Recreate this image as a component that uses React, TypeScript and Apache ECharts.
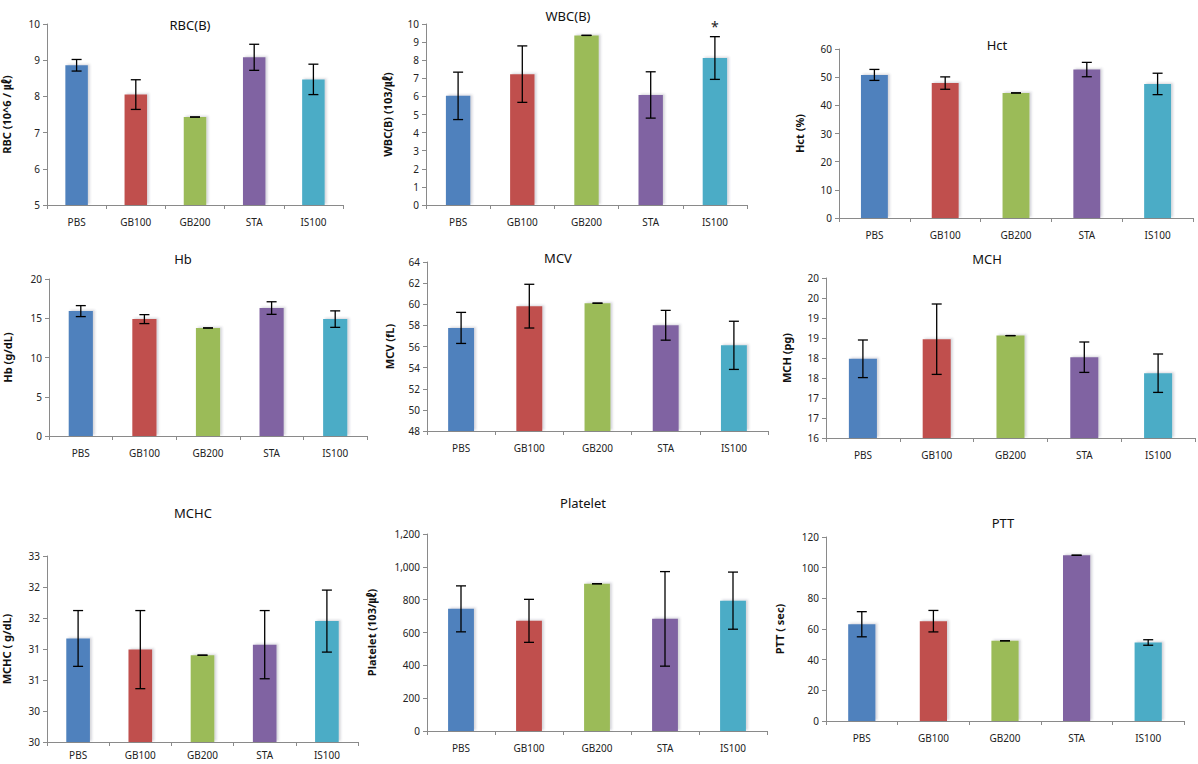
import React, { useEffect, useRef } from "react";
import * as echarts from "echarts";

const categories = ["PBS", "GB100", "GB200", "STA", "IS100"];
const barColors = ["#4F81BD", "#C0504D", "#9BBB59", "#8064A2", "#4BACC6"];

const rbcMean = [8.86, 8.05, 7.43, 9.08, 8.47];
const rbcSd = [0.16, 0.41, 0.0, 0.36, 0.42];
const wbcMean = [6.03, 7.23, 9.37, 6.08, 8.12];
const wbcSd = [1.31, 1.56, 0.0, 1.28, 1.18];
const wbcSig = ["", "", "", "", "*"];
const hctMean = [50.8, 47.9, 44.4, 52.7, 47.6];
const hctSd = [1.95, 2.2, 0.0, 2.55, 3.8];
const hbMean = [15.91, 14.89, 13.76, 16.3, 14.89];
const hbSd = [0.7, 0.57, 0.0, 0.8, 1.05];
const mcvMean = [57.76, 59.82, 60.1, 58.01, 56.11];
const mcvSd = [1.47, 2.07, 0.0, 1.41, 2.28];
const mchMean = [17.98, 18.47, 18.56, 18.02, 17.62];
const mchSd = [0.47, 0.88, 0.0, 0.38, 0.48];
const mchcMean = [31.67, 31.49, 31.4, 31.57, 31.95];
const mchcSd = [0.45, 0.63, 0.0, 0.55, 0.5];
const pltMean = [744, 671, 897, 683, 794];
const pltSd = [140, 131, 0, 288, 174];
const pttMean = [63.1, 65.1, 52.3, 108.1, 51.2];
const pttSd = [8.2, 7.0, 0.0, 0.0, 1.8];

const FONT = "'Noto Sans', 'Noto Sans CJK KR', sans-serif";

type Panel = {
  title: string;
  yName: string;
  mean: number[];
  sd: number[];
  sig?: string[];
  min: number;
  max: number;
  interval: number;
  fmt?: (v: number) => string;
  grid: { left: number; top: number; width: number; height: number };
  titlePos: [number, number];
  nameGap: number;
  xMargin: number;
};

const panels: Panel[] = [
  { title: "RBC(B)", yName: "RBC (10^6 / ㎕)", mean: rbcMean, sd: rbcSd, min: 5, max: 10, interval: 1,
    grid: { left: 47, top: 24, width: 296, height: 181 }, titlePos: [190, 25], nameGap: 35, xMargin: 12 },
  { title: "WBC(B)", yName: "WBC(B) (103/㎕)", mean: wbcMean, sd: wbcSd, sig: wbcSig, min: 0, max: 10, interval: 1,
    grid: { left: 426, top: 24, width: 321, height: 181 }, titlePos: [568, 16], nameGap: 33, xMargin: 12 },
  { title: "Hct", yName: "Hct (%)", mean: hctMean, sd: hctSd, min: 0, max: 60, interval: 10,
    grid: { left: 839, top: 49, width: 354, height: 169 }, titlePos: [997, 45], nameGap: 34, xMargin: 12 },
  { title: "Hb", yName: "Hb (g/dL)", mean: hbMean, sd: hbSd, min: 0, max: 20, interval: 5,
    grid: { left: 49, top: 279, width: 318, height: 157 }, titlePos: [183, 259], nameGap: 36, xMargin: 12 },
  { title: "MCV", yName: "MCV (fL)", mean: mcvMean, sd: mcvSd, min: 48, max: 64, interval: 2,
    grid: { left: 427, top: 262, width: 341, height: 169 }, titlePos: [558, 258], nameGap: 32, xMargin: 12 },
  { title: "MCH", yName: "MCH (pg)", mean: mchMean, sd: mchSd, min: 16, max: 20, interval: 0.5,
    fmt: (v) => String(Math.round(v)),
    grid: { left: 826, top: 278, width: 369, height: 160 }, titlePos: [987, 259], nameGap: 34, xMargin: 12 },
  { title: "MCHC", yName: "MCHC ( g/dL)", mean: mchcMean, sd: mchcSd, min: 30, max: 33, interval: 0.5,
    fmt: (v) => String(Math.floor(v + 1e-9)),
    grid: { left: 47, top: 556, width: 311, height: 186 }, titlePos: [193, 513], nameGap: 35, xMargin: 8 },
  { title: "Platelet", yName: "Platelet (103/㎕)", mean: pltMean, sd: pltSd, min: 0, max: 1200, interval: 200,
    fmt: (v) => v.toLocaleString("en-US"),
    grid: { left: 427, top: 534, width: 340, height: 197 }, titlePos: [583, 503], nameGap: 50, xMargin: 12 },
  { title: "PTT", yName: "PTT ( sec)", mean: pttMean, sd: pttSd, min: 0, max: 120, interval: 20,
    grid: { left: 826, top: 537, width: 358, height: 184 }, titlePos: [1003, 523], nameGap: 41, xMargin: 12 },
];

export default function App() {
  const ref = useRef<HTMLDivElement>(null);
  useEffect(() => {
    if (!ref.current) return;
    const chart = echarts.init(ref.current, undefined, { renderer: "svg" });
    const grid: any[] = [];
    const xAxis: any[] = [];
    const yAxis: any[] = [];
    const series: any[] = [];
    const graphic: any[] = [];
    panels.forEach((p, i) => {
      grid.push({ ...p.grid, containLabel: false });
      xAxis.push({
        type: "category",
        gridIndex: i,
        data: categories,
        axisLine: { lineStyle: { color: "#8a8a8a", width: 1 } },
        axisTick: { show: true, length: 4, lineStyle: { color: "#8a8a8a" } },
        axisLabel: { fontSize: 10, color: "#222", margin: p.xMargin, fontFamily: FONT },
        splitLine: { show: false },
      });
      yAxis.push({
        type: "value",
        gridIndex: i,
        min: p.min,
        max: p.max,
        interval: p.interval,
        name: p.yName,
        nameLocation: "middle",
        nameGap: p.nameGap,
        nameTextStyle: { fontSize: 11, fontWeight: "bold", color: "#111", fontFamily: FONT },
        axisLine: { show: true, lineStyle: { color: "#8a8a8a", width: 1 } },
        axisTick: { show: true, length: 4, lineStyle: { color: "#8a8a8a" } },
        axisLabel: {
          fontSize: 10,
          color: "#222",
          margin: 7,
          fontFamily: FONT,
          formatter: p.fmt ? (v: number) => p.fmt!(v) : undefined,
        },
        splitLine: { show: false },
      });
      series.push({
        type: "bar",
        xAxisIndex: i,
        yAxisIndex: i,
        data: p.mean.map((v, k) => ({ value: v, itemStyle: { color: barColors[k] } })),
        barWidth: "38%",
        itemStyle: {
          shadowColor: "rgba(60,60,90,0.22)",
          shadowBlur: 2,
          shadowOffsetX: 2,
          shadowOffsetY: -1,
        },
        silent: true,
      });
      const sig = p.sig;
      series.push({
        type: "custom",
        xAxisIndex: i,
        yAxisIndex: i,
        data: p.mean.map((m, k) => [k, m - p.sd[k], m + p.sd[k]]),
        encode: { x: 0, y: [1, 2] },
        z: 10,
        silent: true,
        renderItem: (params: any, api: any) => {
          const x = api.value(0);
          const lo = api.coord([x, api.value(1)]);
          const hi = api.coord([x, api.value(2)]);
          const cx = lo[0];
          const w = 5;
          const st = { stroke: "#000", lineWidth: 1.3 };
          const children: any[] = [
            { type: "line", shape: { x1: cx, y1: hi[1], x2: cx, y2: lo[1] }, style: st },
            { type: "line", shape: { x1: cx - w, y1: hi[1], x2: cx + w, y2: hi[1] }, style: st },
            { type: "line", shape: { x1: cx - w, y1: lo[1], x2: cx + w, y2: lo[1] }, style: st },
          ];
          if (sig && sig[params.dataIndex]) {
            children.push({
              type: "text",
              x: cx,
              y: hi[1] - 10,
              style: {
                text: sig[params.dataIndex],
                fill: "#222",
                fontSize: 14,
                fontFamily: FONT,
                align: "center",
                verticalAlign: "middle",
                textAlign: "center",
                textVerticalAlign: "middle",
              },
            });
          }
          return { type: "group", children };
        },
      });
      graphic.push({
        type: "text",
        x: p.titlePos[0],
        y: p.titlePos[1],
        style: {
          text: p.title,
          fill: "#111",
          fontSize: 13,
          fontFamily: FONT,
          align: "center",
          verticalAlign: "middle",
          textAlign: "center",
          textVerticalAlign: "middle",
        },
      });
    });
    chart.setOption({
      animation: false,
      backgroundColor: "#ffffff",
      grid,
      xAxis,
      yAxis,
      series,
      graphic,
    });
    return () => chart.dispose();
  }, []);
  return (
    <div
      ref={ref}
      style={{ position: "absolute", left: 0, top: 0, width: 1198, height: 764, background: "#fff" }}
    />
  );
}
